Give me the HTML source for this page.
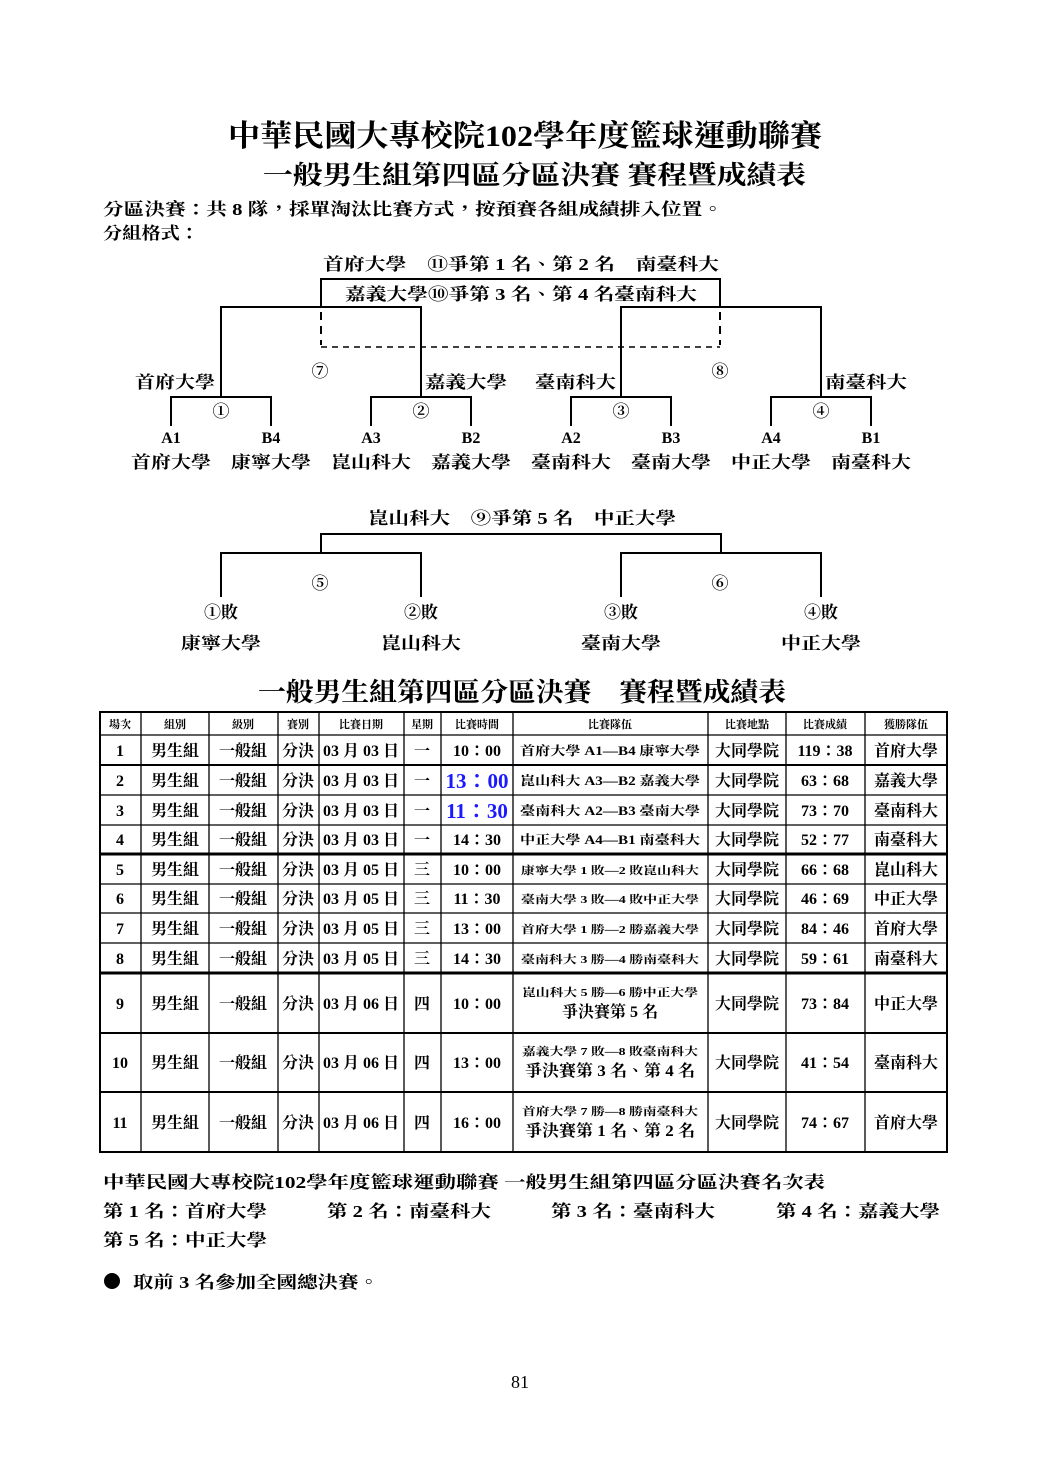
<!DOCTYPE html>
<html><head><meta charset="utf-8"><style>
html,body{margin:0;padding:0;background:#fff}
svg{display:block}
text{font-family:"Liberation Serif","Noto Serif CJK TC","Noto Serif CJK SC",serif;font-weight:bold;fill:#000}
</style></head><body>
<svg width="1040" height="1473" viewBox="0 0 1040 1473" xmlns="http://www.w3.org/2000/svg">
<text x="228" y="146" font-size="30" textLength="594" lengthAdjust="spacingAndGlyphs">中華民國大專校院102學年度籃球運動聯賽</text>
<text x="263" y="184" font-size="26" textLength="543" lengthAdjust="spacingAndGlyphs">一般男生組第四區分區決賽 賽程暨成績表</text>
<text x="103" y="215" font-size="17" textLength="620" lengthAdjust="spacingAndGlyphs">分區決賽：共 8 隊，採單淘汰比賽方式，按預賽各組成績排入位置。</text>
<text x="103" y="239" font-size="17" textLength="96" lengthAdjust="spacingAndGlyphs">分組格式：</text>

<g stroke="#000" stroke-width="2" fill="none">
<polyline points="321,306 321,279 720,279 720,306"/>
<line x1="321" y1="312" x2="321" y2="345" stroke-dasharray="8,6"/>
<line x1="720" y1="312" x2="720" y2="345" stroke-dasharray="8,6"/>
<line x1="321" y1="347" x2="720" y2="347" stroke-dasharray="6,5" stroke-width="1.5"/>
<polyline points="221,396 221,307 421,307 421,396"/>
<polyline points="621,396 621,307 821,307 821,396"/>
<polyline points="171,426 171,397 271,397 271,426"/>
<polyline points="371,426 371,397 471,397 471,426"/>
<polyline points="571,426 571,397 671,397 671,426"/>
<polyline points="771,426 771,397 871,397 871,426"/>
<polyline points="221,597 221,553 421,553 421,597"/>
<polyline points="621,597 621,553 821,553 821,597"/>
<polyline points="321,553 321,534 721,534 721,553"/>
</g>
<text x="323" y="270" font-size="17" textLength="396" lengthAdjust="spacingAndGlyphs">首府大學　⑪爭第 1 名、第 2 名　南臺科大</text>
<text x="345" y="300" font-size="17" textLength="352" lengthAdjust="spacingAndGlyphs">嘉義大學⑩爭第 3 名、第 4 名臺南科大</text>
<g font-size="17">
<text x="135" y="388" textLength="80" lengthAdjust="spacingAndGlyphs">首府大學</text>
<text x="425" y="388" textLength="82" lengthAdjust="spacingAndGlyphs">嘉義大學</text>
<text x="535" y="388" textLength="81" lengthAdjust="spacingAndGlyphs">臺南科大</text>
<text x="825" y="388" textLength="82" lengthAdjust="spacingAndGlyphs">南臺科大</text>
<text x="320" y="377" text-anchor="middle">⑦</text>
<text x="720" y="377" text-anchor="middle">⑧</text>
<text x="221" y="417" text-anchor="middle">①</text>
<text x="421" y="417" text-anchor="middle">②</text>
<text x="621" y="417" text-anchor="middle">③</text>
<text x="821" y="417" text-anchor="middle">④</text>
</g>
<g font-size="16" text-anchor="middle">
<text x="171" y="443">A1</text><text x="271" y="443">B4</text>
<text x="371" y="443">A3</text><text x="471" y="443">B2</text>
<text x="571" y="443">A2</text><text x="671" y="443">B3</text>
<text x="771" y="443">A4</text><text x="871" y="443">B1</text>
</g>
<g font-size="17" text-anchor="middle">
<text x="171" y="468" textLength="80" lengthAdjust="spacingAndGlyphs">首府大學</text>
<text x="271" y="468" textLength="80" lengthAdjust="spacingAndGlyphs">康寧大學</text>
<text x="371" y="468" textLength="80" lengthAdjust="spacingAndGlyphs">崑山科大</text>
<text x="471" y="468" textLength="80" lengthAdjust="spacingAndGlyphs">嘉義大學</text>
<text x="571" y="468" textLength="80" lengthAdjust="spacingAndGlyphs">臺南科大</text>
<text x="671" y="468" textLength="80" lengthAdjust="spacingAndGlyphs">臺南大學</text>
<text x="771" y="468" textLength="80" lengthAdjust="spacingAndGlyphs">中正大學</text>
<text x="871" y="468" textLength="80" lengthAdjust="spacingAndGlyphs">南臺科大</text>
</g>
<text x="368" y="524" font-size="17" textLength="308" lengthAdjust="spacingAndGlyphs">崑山科大　⑨爭第 5 名　中正大學</text>
<g font-size="17" text-anchor="middle">
<text x="320" y="589">⑤</text><text x="720" y="589">⑥</text>
<text x="221" y="618">①敗</text><text x="421" y="618">②敗</text>
<text x="621" y="618">③敗</text><text x="821" y="618">④敗</text>
<text x="221" y="649" textLength="80" lengthAdjust="spacingAndGlyphs">康寧大學</text>
<text x="421" y="649" textLength="80" lengthAdjust="spacingAndGlyphs">崑山科大</text>
<text x="621" y="649" textLength="80" lengthAdjust="spacingAndGlyphs">臺南大學</text>
<text x="821" y="649" textLength="80" lengthAdjust="spacingAndGlyphs">中正大學</text>
</g>
<text x="258" y="701" font-size="26" textLength="528" lengthAdjust="spacingAndGlyphs">一般男生組第四區分區決賽　賽程暨成績表</text>

<g stroke="#000" stroke-width="1.3" fill="none">
<rect x="100" y="712" width="847" height="440" stroke-width="2"/>
<line x1="100" y1="735" x2="947" y2="735"/>
<line x1="100" y1="765" x2="947" y2="765" stroke-width="2"/>
<line x1="100" y1="795" x2="947" y2="795"/>
<line x1="100" y1="825" x2="947" y2="825"/>
<line x1="100" y1="854" x2="947" y2="854" stroke-width="3"/>
<line x1="100" y1="884" x2="947" y2="884"/>
<line x1="100" y1="913" x2="947" y2="913"/>
<line x1="100" y1="943" x2="947" y2="943"/>
<line x1="100" y1="973" x2="947" y2="973" stroke-width="3"/>
<line x1="100" y1="1033" x2="947" y2="1033" stroke-width="2"/>
<line x1="100" y1="1092" x2="947" y2="1092" stroke-width="2"/>
<line x1="141" y1="712" x2="141" y2="1152"/>
<line x1="209" y1="712" x2="209" y2="1152"/>
<line x1="278" y1="712" x2="278" y2="1152"/>
<line x1="319" y1="712" x2="319" y2="1152"/>
<line x1="404" y1="712" x2="404" y2="1152"/>
<line x1="441" y1="712" x2="441" y2="1152"/>
<line x1="513" y1="712" x2="513" y2="1152"/>
<line x1="708" y1="712" x2="708" y2="1152"/>
<line x1="786" y1="712" x2="786" y2="1152"/>
<line x1="865" y1="712" x2="865" y2="1152"/>
</g>
<g font-size="11" text-anchor="middle">
<text x="120" y="728">場次</text><text x="175" y="728">組別</text><text x="243" y="728">級別</text>
<text x="298" y="728">賽別</text><text x="361" y="728">比賽日期</text><text x="422" y="728">星期</text>
<text x="477" y="728">比賽時間</text><text x="610" y="728">比賽隊伍</text><text x="747" y="728">比賽地點</text>
<text x="825" y="728">比賽成績</text><text x="906" y="728">獲勝隊伍</text>
</g>
<g font-size="16" text-anchor="middle">
<g transform="translate(0,756)">
<text x="120" y="0">1</text><text x="175" y="0">男生組</text><text x="243" y="0">一般組</text><text x="298" y="0">分決</text>
<text x="361" y="0">03 月 03 日</text><text x="422" y="0">一</text><text x="477" y="0">10：00</text>
<text x="610" y="-1" font-size="12.5" textLength="180" lengthAdjust="spacingAndGlyphs">首府大學 A1—B4 康寧大學</text>
<text x="747" y="0">大同學院</text><text x="825" y="0">119：38</text><text x="906" y="0">首府大學</text></g>
<g transform="translate(0,786)">
<text x="120" y="0">2</text><text x="175" y="0">男生組</text><text x="243" y="0">一般組</text><text x="298" y="0">分決</text>
<text x="361" y="0">03 月 03 日</text><text x="422" y="0">一</text><text x="477" y="2" font-size="21" style="fill:#1a1aff">13：00</text>
<text x="610" y="-1" font-size="12.5" textLength="180" lengthAdjust="spacingAndGlyphs">崑山科大 A3—B2 嘉義大學</text>
<text x="747" y="0">大同學院</text><text x="825" y="0">63：68</text><text x="906" y="0">嘉義大學</text></g>
<g transform="translate(0,816)">
<text x="120" y="0">3</text><text x="175" y="0">男生組</text><text x="243" y="0">一般組</text><text x="298" y="0">分決</text>
<text x="361" y="0">03 月 03 日</text><text x="422" y="0">一</text><text x="477" y="2" font-size="21" style="fill:#1a1aff">11：30</text>
<text x="610" y="-1" font-size="12.5" textLength="180" lengthAdjust="spacingAndGlyphs">臺南科大 A2—B3 臺南大學</text>
<text x="747" y="0">大同學院</text><text x="825" y="0">73：70</text><text x="906" y="0">臺南科大</text></g>
<g transform="translate(0,845)">
<text x="120" y="0">4</text><text x="175" y="0">男生組</text><text x="243" y="0">一般組</text><text x="298" y="0">分決</text>
<text x="361" y="0">03 月 03 日</text><text x="422" y="0">一</text><text x="477" y="0">14：30</text>
<text x="610" y="-1" font-size="12.5" textLength="180" lengthAdjust="spacingAndGlyphs">中正大學 A4—B1 南臺科大</text>
<text x="747" y="0">大同學院</text><text x="825" y="0">52：77</text><text x="906" y="0">南臺科大</text></g>
<g transform="translate(0,875)">
<text x="120" y="0">5</text><text x="175" y="0">男生組</text><text x="243" y="0">一般組</text><text x="298" y="0">分決</text>
<text x="361" y="0">03 月 05 日</text><text x="422" y="0">三</text><text x="477" y="0">10：00</text>
<text x="610" y="-1" font-size="11" textLength="178" lengthAdjust="spacingAndGlyphs">康寧大學 1 敗—2 敗崑山科大</text>
<text x="747" y="0">大同學院</text><text x="825" y="0">66：68</text><text x="906" y="0">崑山科大</text></g>
<g transform="translate(0,904)">
<text x="120" y="0">6</text><text x="175" y="0">男生組</text><text x="243" y="0">一般組</text><text x="298" y="0">分決</text>
<text x="361" y="0">03 月 05 日</text><text x="422" y="0">三</text><text x="477" y="0">11：30</text>
<text x="610" y="-1" font-size="11" textLength="178" lengthAdjust="spacingAndGlyphs">臺南大學 3 敗—4 敗中正大學</text>
<text x="747" y="0">大同學院</text><text x="825" y="0">46：69</text><text x="906" y="0">中正大學</text></g>
<g transform="translate(0,934)">
<text x="120" y="0">7</text><text x="175" y="0">男生組</text><text x="243" y="0">一般組</text><text x="298" y="0">分決</text>
<text x="361" y="0">03 月 05 日</text><text x="422" y="0">三</text><text x="477" y="0">13：00</text>
<text x="610" y="-1" font-size="11" textLength="178" lengthAdjust="spacingAndGlyphs">首府大學 1 勝—2 勝嘉義大學</text>
<text x="747" y="0">大同學院</text><text x="825" y="0">84：46</text><text x="906" y="0">首府大學</text></g>
<g transform="translate(0,964)">
<text x="120" y="0">8</text><text x="175" y="0">男生組</text><text x="243" y="0">一般組</text><text x="298" y="0">分決</text>
<text x="361" y="0">03 月 05 日</text><text x="422" y="0">三</text><text x="477" y="0">14：30</text>
<text x="610" y="-1" font-size="11" textLength="178" lengthAdjust="spacingAndGlyphs">臺南科大 3 勝—4 勝南臺科大</text>
<text x="747" y="0">大同學院</text><text x="825" y="0">59：61</text><text x="906" y="0">南臺科大</text></g>
<g transform="translate(0,1009)">
<text x="120" y="0">9</text><text x="175" y="0">男生組</text><text x="243" y="0">一般組</text><text x="298" y="0">分決</text>
<text x="361" y="0">03 月 06 日</text><text x="422" y="0">四</text><text x="477" y="0">10：00</text>
<text x="610" y="-13" font-size="11" textLength="176" lengthAdjust="spacingAndGlyphs">崑山科大 5 勝—6 勝中正大學</text>
<text x="610" y="8">爭決賽第 5 名</text>
<text x="747" y="0">大同學院</text><text x="825" y="0">73：84</text><text x="906" y="0">中正大學</text></g>
<g transform="translate(0,1068)">
<text x="120" y="0">10</text><text x="175" y="0">男生組</text><text x="243" y="0">一般組</text><text x="298" y="0">分決</text>
<text x="361" y="0">03 月 06 日</text><text x="422" y="0">四</text><text x="477" y="0">13：00</text>
<text x="610" y="-13" font-size="11" textLength="176" lengthAdjust="spacingAndGlyphs">嘉義大學 7 敗—8 敗臺南科大</text>
<text x="610" y="8" textLength="170" lengthAdjust="spacingAndGlyphs">爭決賽第 3 名、第 4 名</text>
<text x="747" y="0">大同學院</text><text x="825" y="0">41：54</text><text x="906" y="0">臺南科大</text></g>
<g transform="translate(0,1128)">
<text x="120" y="0">11</text><text x="175" y="0">男生組</text><text x="243" y="0">一般組</text><text x="298" y="0">分決</text>
<text x="361" y="0">03 月 06 日</text><text x="422" y="0">四</text><text x="477" y="0">16：00</text>
<text x="610" y="-13" font-size="11" textLength="176" lengthAdjust="spacingAndGlyphs">首府大學 7 勝—8 勝南臺科大</text>
<text x="610" y="8" textLength="170" lengthAdjust="spacingAndGlyphs">爭決賽第 1 名、第 2 名</text>
<text x="747" y="0">大同學院</text><text x="825" y="0">74：67</text><text x="906" y="0">首府大學</text></g>
</g>

<g font-size="17">
<text x="103" y="1188" textLength="722" lengthAdjust="spacingAndGlyphs">中華民國大專校院102學年度籃球運動聯賽 一般男生組第四區分區決賽名次表</text>
<text x="103" y="1217" textLength="164" lengthAdjust="spacingAndGlyphs">第 1 名：首府大學</text>
<text x="327" y="1217" textLength="164" lengthAdjust="spacingAndGlyphs">第 2 名：南臺科大</text>
<text x="551" y="1217" textLength="164" lengthAdjust="spacingAndGlyphs">第 3 名：臺南科大</text>
<text x="776" y="1217" textLength="164" lengthAdjust="spacingAndGlyphs">第 4 名：嘉義大學</text>
<text x="103" y="1246" textLength="164" lengthAdjust="spacingAndGlyphs">第 5 名：中正大學</text>
<text x="133" y="1288" textLength="246" lengthAdjust="spacingAndGlyphs">取前 3 名參加全國總決賽。</text>
</g>
<circle cx="112" cy="1281" r="8" fill="#000"/>
<text x="520" y="1388" font-size="18" text-anchor="middle" style="font-weight:normal">81</text>
</svg>
</body></html>
